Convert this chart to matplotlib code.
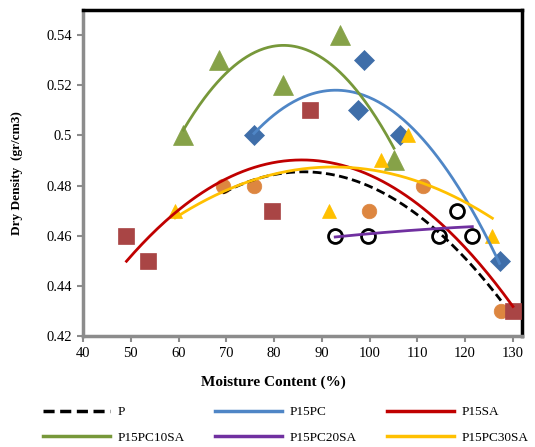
import numpy as np
import matplotlib
matplotlib.use("Agg")
import matplotlib.pyplot as plt
from matplotlib.lines import Line2D

plt.rcParams['font.family'] = ['Liberation Serif', 'DejaVu Serif']

# Moisture content (%) and dry density (gr/cm3) per mix
p_x = [69.3, 75.8, 99.8, 111.1, 127.5]
p_y = [0.48, 0.48, 0.47, 0.48, 0.43]

p15pc_x = [75.8, 97.5, 98.8, 106.3, 127.2]
p15pc_y = [0.50, 0.51, 0.53, 0.50, 0.45]

p15sa_x = [49.1, 53.7, 79.5, 87.5, 130.0]
p15sa_y = [0.46, 0.45, 0.47, 0.51, 0.43]

p15pc10sa_x = [61.0, 68.5, 81.9, 93.8, 105.1]
p15pc10sa_y = [0.50, 0.53, 0.52, 0.54, 0.49]

p15pc20sa_x = [92.8, 99.7, 114.5, 118.3, 121.5]
p15pc20sa_y = [0.46, 0.46, 0.46, 0.47, 0.46]

p15pc30sa_x = [59.3, 91.4, 102.3, 108.0, 125.7]
p15pc30sa_y = [0.47, 0.47, 0.49, 0.50, 0.46]

x_ticks = [40, 50, 60, 70, 80, 90, 100, 110, 120, 130]
y_ticks = [0.42, 0.44, 0.46, 0.48, 0.50, 0.52, 0.54]
y_tick_labels = ['0.42', '0.44', '0.46', '0.48', '0.5', '0.52', '0.54']

series = [
    # label, x, y, marker, marker face, marker edge, marker size, line colour, line style
    ('P', p_x, p_y, 'o', '#DD8640', '#DD8640', 10.5, 'black', (0, (3.2, 1.6))),
    ('P15PC', p15pc_x, p15pc_y, 'D', '#3F6EA9', '#3F6EA9', 10.5, '#4F86C6', '-'),
    ('P15SA', p15sa_x, p15sa_y, 's', '#A94545', '#A94545', 11, '#C00000', '-'),
    ('P15PC10SA', p15pc10sa_x, p15pc10sa_y, '^', '#86A248', '#86A248', 14, '#77983A', '-'),
    ('P15PC20SA', p15pc20sa_x, p15pc20sa_y, 'o', 'none', 'black', 10, '#7030A0', '-'),
    ('P15PC30SA', p15pc30sa_x, p15pc30sa_y, '^', '#FFC000', '#FFC000', 10.5, '#FFC000', '-'),
]

fig = plt.figure(figsize=(5.35, 4.47), dpi=100)
ax = fig.add_axes([83 / 535, 1 - 336 / 447, (522 - 83) / 535, (336 - 10) / 447])

handles = {}
for label, xs, ys, mk, fc, ec, ms, lc, ls in series:
    ax.plot(xs, ys, linestyle='none', marker=mk, markersize=ms,
            markerfacecolor=fc, markeredgecolor=ec,
            markeredgewidth=2.0 if fc == 'none' else 0.5, zorder=3)

for label, xs, ys, mk, fc, ec, ms, lc, ls in series:
    # second-order polynomial trend line over the measured range
    coef = np.polyfit(xs, ys, 2)
    xx = np.linspace(min(xs), max(xs), 200)
    ax.plot(xx, np.polyval(coef, xx), color=lc, linestyle=ls,
            linewidth=2.0, zorder=4)
    handles[label] = Line2D([], [], color=lc, linestyle=ls, linewidth=2.5, label=label)

ax.set_xlim(40, 131.9)
ax.set_ylim(0.42, 0.55)
ax.set_xticks(x_ticks)
ax.set_yticks(y_ticks)
ax.set_yticklabels(y_tick_labels)
ax.tick_params(axis='both', labelsize=10.5, direction='out', length=4,
               width=1.5, color='#8C8C8C', pad=4)

for side in ('left', 'bottom'):
    ax.spines[side].set_color('#8C8C8C')
    ax.spines[side].set_linewidth(2.5)
for side in ('top', 'right'):
    ax.spines[side].set_color('black')
    ax.spines[side].set_linewidth(2.5)

ax.set_xlabel('Moisture Content (%)', fontsize=11, fontweight='bold')
ax.xaxis.set_label_coords((273 - 83) / 439, -(376 - 336) / 326)
ax.set_ylabel('Dry Density  (gr/cm3)', fontsize=9.5, fontweight='bold')
ax.yaxis.set_label_coords(-(83 - 23) / 439, 0.5)

# legend filled row by row: P, P15PC, P15SA / P15PC10SA, P15PC20SA, P15PC30SA
order = ['P', 'P15PC10SA', 'P15PC', 'P15PC20SA', 'P15SA', 'P15PC30SA']
fig.legend(handles=[handles[k] for k in order], loc='upper left', ncol=3,
           frameon=False, fontsize=9.5, handlelength=5.1, handletextpad=0.55,
           columnspacing=2.3, labelspacing=1.0, borderpad=0, borderaxespad=0,
           bbox_to_anchor=(43 / 535, 1 - 406 / 447))

fig.savefig('out.png', dpi=100)
